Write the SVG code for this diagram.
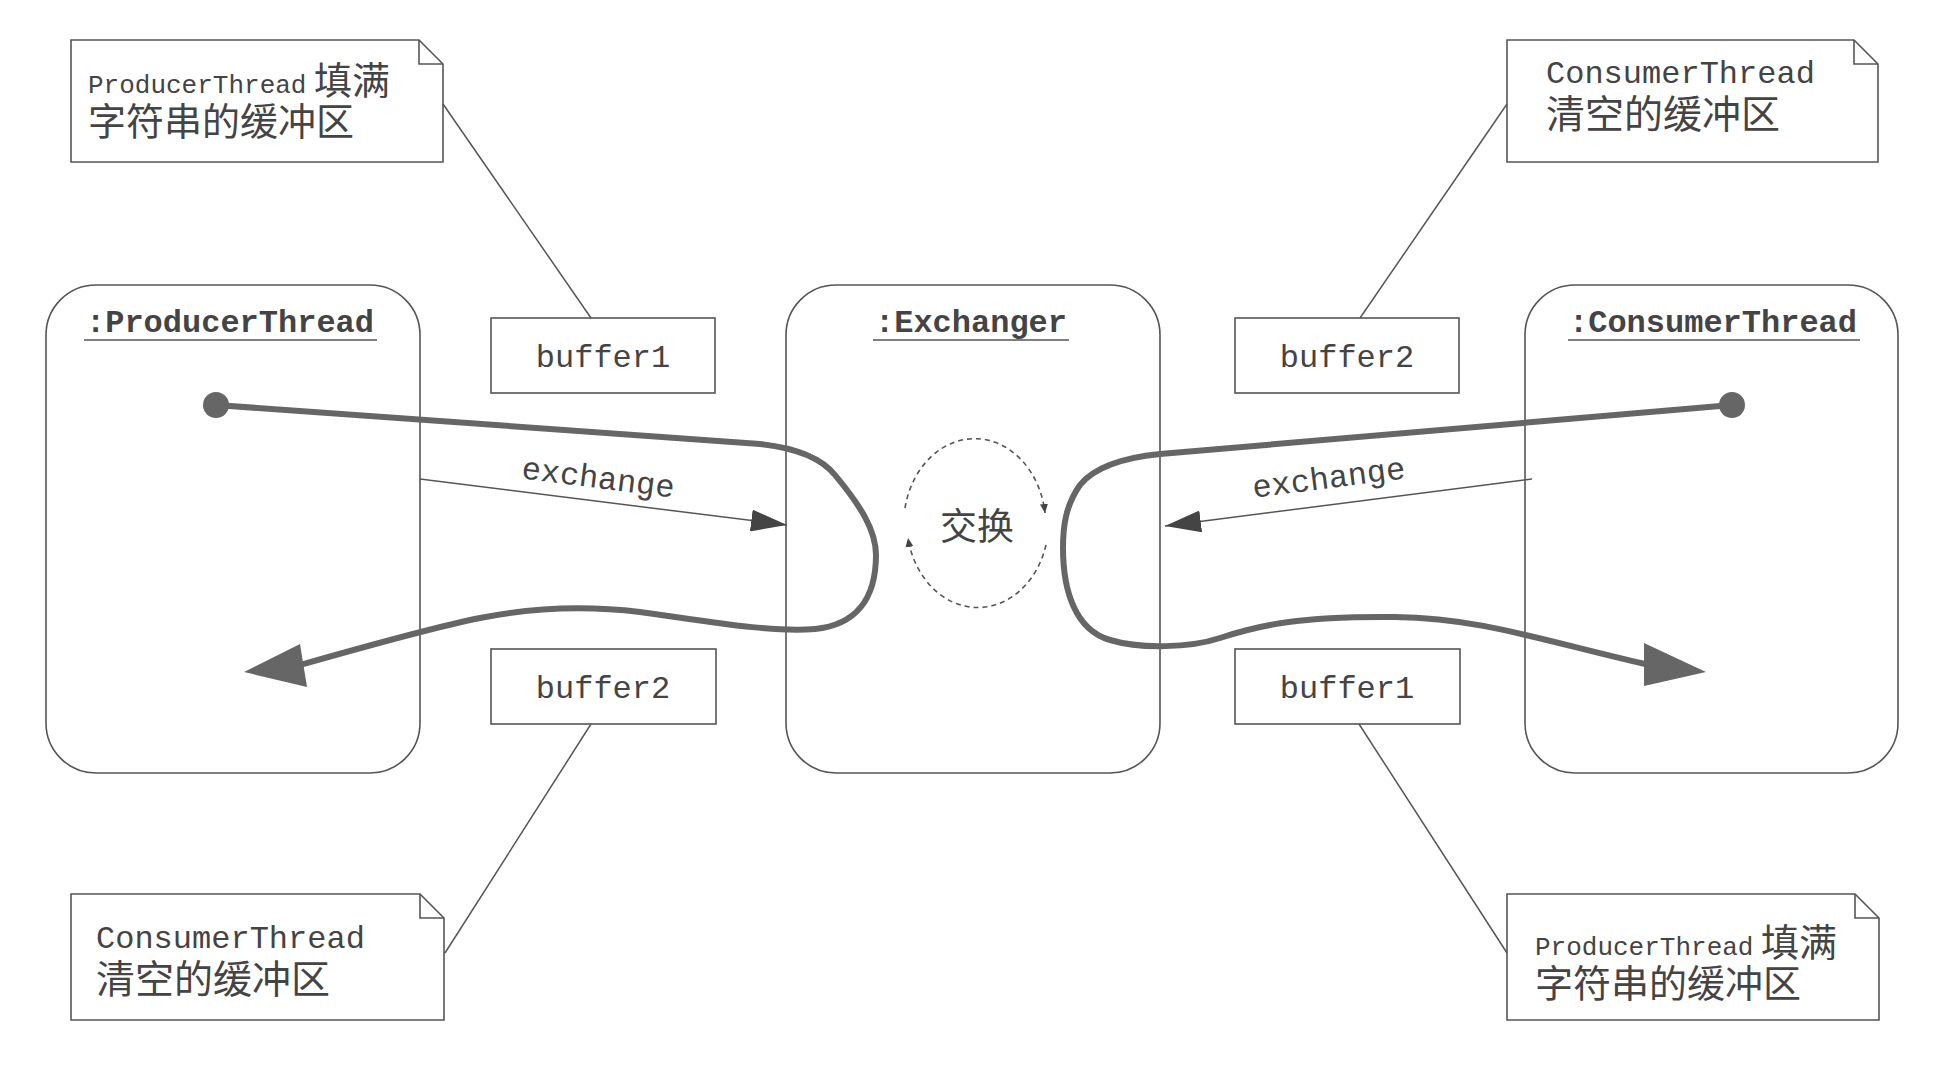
<svg xmlns="http://www.w3.org/2000/svg" width="1950" height="1066" viewBox="0 0 1950 1066">
<style>
.box{fill:#fff;stroke:#555;stroke-width:1.6}
.note{fill:#fff;stroke:#555;stroke-width:1.6}
.fold{fill:none;stroke:#555;stroke-width:1.6}
.thin{fill:none;stroke:#555;stroke-width:1.5}
.thick{fill:none;stroke:#666;stroke-width:6;stroke-linecap:round;stroke-linejoin:round}
.mono{font-family:"Liberation Mono","Courier New",monospace;fill:#444}
.title{font-family:"Liberation Mono","Courier New",monospace;font-weight:bold;font-size:32px;fill:#444;text-anchor:middle}
.buf{font-family:"Liberation Mono","Courier New",monospace;font-size:32px;fill:#444;text-anchor:middle}
.cjk{font-family:"Noto Sans CJK SC","Noto Sans",sans-serif;fill:#444}
.notetext{font-family:"Liberation Mono","Noto Sans CJK SC",monospace;fill:#444}
.dash{fill:none;stroke:#555;stroke-width:1.6;stroke-dasharray:5 4}
</style>
<defs>
<marker id="arr" markerUnits="userSpaceOnUse" markerWidth="36" markerHeight="22" refX="36" refY="11" orient="auto">
<path d="M0,0 L36,11 L0,22 z" fill="#444"/>
</marker>
<marker id="small" markerUnits="userSpaceOnUse" markerWidth="10" markerHeight="10" refX="9" refY="5" orient="auto">
<path d="M0,1 L9,5 L0,9 z" fill="#444"/>
</marker>
</defs>
<rect width="1950" height="1066" fill="#fff"/>

<g id="producer">
<rect class="box" x="46" y="285" width="374" height="488" rx="50" ry="50"/>
<text class="title" x="230" y="332">:ProducerThread</text>
<line class="thin" x1="84" y1="340" x2="377" y2="340"/>
</g>
<g id="exchanger">
<rect class="box" x="786" y="285" width="374" height="488" rx="50" ry="50"/>
<text class="title" x="971" y="332">:Exchanger</text>
<line class="thin" x1="873" y1="340" x2="1069" y2="340"/>
<text class="cjk" x="977" y="540" font-size="37" text-anchor="middle">交换</text>
<path class="dash" d="M905,508 A71,86 0 0 1 1045,513" marker-end="url(#small)"/>
<path class="dash" d="M1046,545 A71,86 0 0 1 908,538" marker-end="url(#small)"/>
</g>
<g id="consumer">
<rect class="box" x="1525" y="285" width="373" height="488" rx="50" ry="50"/>
<text class="title" x="1713" y="332">:ConsumerThread</text>
<line class="thin" x1="1568" y1="340" x2="1860" y2="340"/>
</g>

<g id="buffer1-top">
<rect class="box" x="491" y="318" width="224" height="75"/>
<text class="buf" x="603" y="367">buffer1</text>
</g>
<g id="buffer2-top">
<rect class="box" x="1235" y="318" width="224" height="75"/>
<text class="buf" x="1347" y="367">buffer2</text>
</g>
<g id="buffer2-bottom">
<rect class="box" x="491" y="649" width="225" height="75"/>
<text class="buf" x="603" y="698">buffer2</text>
</g>
<g id="buffer1-bottom">
<rect class="box" x="1235" y="649" width="225" height="75"/>
<text class="buf" x="1347" y="698">buffer1</text>
</g>

<g id="note-tl">
<path class="note" d="M71,40 L419,40 L443,64 L443,162 L71,162 Z"/>
<path class="fold" d="M419,40 L419,64 L443,64"/>
<text class="notetext"><tspan x="88" y="93" font-size="26">ProducerThread</tspan><tspan x="314" y="94" font-size="38" font-family="Noto Sans CJK SC, sans-serif">填满</tspan><tspan x="88" y="135" font-size="38" font-family="Noto Sans CJK SC, sans-serif">字符串的缓冲区</tspan></text>
</g>
<g id="note-tr">
<path class="note" d="M1507,40 L1854,40 L1878,64 L1878,162 L1507,162 Z"/>
<path class="fold" d="M1854,40 L1854,64 L1878,64"/>
<text class="notetext"><tspan x="1546" y="83" font-size="32">ConsumerThread</tspan><tspan x="1546" y="128" font-size="39" font-family="Noto Sans CJK SC, sans-serif">清空的缓冲区</tspan></text>
</g>
<g id="note-bl">
<path class="note" d="M71,894 L420,894 L444,918 L444,1020 L71,1020 Z"/>
<path class="fold" d="M420,894 L420,918 L444,918"/>
<text class="notetext"><tspan x="96" y="948" font-size="32">ConsumerThread</tspan><tspan x="96" y="993" font-size="39" font-family="Noto Sans CJK SC, sans-serif">清空的缓冲区</tspan></text>
</g>
<g id="note-br">
<path class="note" d="M1507,894 L1855,894 L1879,918 L1879,1020 L1507,1020 Z"/>
<path class="fold" d="M1855,894 L1855,918 L1879,918"/>
<text class="notetext"><tspan x="1535" y="955" font-size="26">ProducerThread</tspan><tspan x="1761" y="956" font-size="38" font-family="Noto Sans CJK SC, sans-serif">填满</tspan><tspan x="1535" y="997" font-size="38" font-family="Noto Sans CJK SC, sans-serif">字符串的缓冲区</tspan></text>
</g>

<g id="connectors">
<line class="thin" x1="443" y1="104" x2="591" y2="318"/>
<line class="thin" x1="1507" y1="104" x2="1360" y2="318"/>
<line class="thin" x1="591" y1="724" x2="445" y2="953"/>
<line class="thin" x1="1359" y1="724" x2="1507" y2="953"/>

<line class="thin" x1="420" y1="479" x2="787" y2="525" marker-end="url(#arr)"/>
<text class="mono" x="597" y="488" font-size="32" text-anchor="middle" transform="rotate(7.2 597 488)">exchange</text>
<line class="thin" x1="1532" y1="479" x2="1165" y2="526" marker-end="url(#arr)"/>
<text class="mono" x="1330" y="488" font-size="32" text-anchor="middle" transform="rotate(-7.3 1330 488)">exchange</text>

<circle cx="216" cy="405" r="13" fill="#666"/>
<path class="thick" d="M216,405 L760,444 Q815,450 835,475 C860,505 876,530 876,555 C876,600 855,625 815,629 C770,633 700,620 640,612 C590,606 540,606 480,618 C430,628 360,648 300,665"/>
<polygon fill="#666" points="244,672 300,644 307,687"/>

<circle cx="1732" cy="405" r="13" fill="#666"/>
<path class="thick" d="M1732,405 L1160,454 Q1100,460 1080,485 C1066,505 1063,525 1063,548 C1063,590 1075,630 1110,640 C1140,649 1190,648 1220,638 C1260,625 1300,616 1395,617 C1480,618 1540,640 1645,664"/>
<polygon fill="#666" points="1706,672 1644,643 1644,686"/>
</g>
</svg>
